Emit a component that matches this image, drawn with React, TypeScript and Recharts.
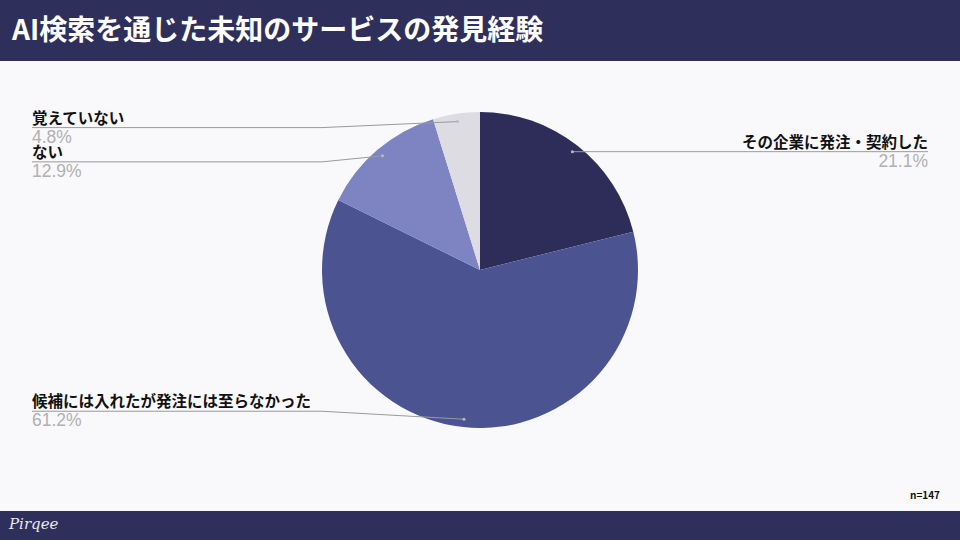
import { PieChart, Pie, Cell } from 'recharts'

const NAMES = ['その企業に発注・契約した', '候補には入れたが発注には至らなかった', 'ない', '覚えていない']
const VALUES = [21.1, 61.2, 12.9, 4.8]
const COLORS = ['#2e2d5a', '#4b5391', '#7e84c1', '#dcdce2']

const data = NAMES.map((name, i) => ({ name, value: VALUES[i] }))

const FONT = '"Noto Sans CJK JP", "Noto Sans", sans-serif'
const RAD = Math.PI / 180

function renderLabel(props: any) {
  const { cx, cy, midAngle, outerRadius, index } = props
  const r = outerRadius * 0.95
  const dx = cx + r * Math.cos(-midAngle * RAD)
  const dy = cy + r * Math.sin(-midAngle * RAD)
  const right = dx > cx
  const ly = right ? dy : dy + (dy < cy ? 6 : -8)
  const elbowX = cx - outerRadius
  const endX = right ? 928 : 32
  const path = right
    ? `M${dx},${dy} L${endX},${ly}`
    : `M${dx},${dy} L${elbowX},${ly} L${endX},${ly}`
  const anchor = right ? 'end' : 'start'
  return (
    <g key={index}>
      <path d={path} stroke="#9a9a9a" strokeWidth={1} fill="none" />
      <circle cx={dx} cy={dy} r={1.5} fill="#b8b8c8" />
      <text x={endX} y={ly - 4} textAnchor={anchor} fill="#111" fontSize={15.5} fontWeight={700} fontFamily={FONT}>
        {NAMES[index]}
      </text>
      <text x={endX} y={ly + 15} textAnchor={anchor} fill="#b0b0b0" fontSize={17.5} fontFamily='"Liberation Sans", Arial, sans-serif'>
        {VALUES[index].toFixed(1)}%
      </text>
    </g>
  )
}

export default function App() {
  return (
    <div style={{ position: 'relative', width: 960, height: 540, background: '#f9f9fb', overflow: 'hidden', fontFamily: FONT }}>
      <style>{'body{margin:0}'}</style>
      <div style={{ position: 'absolute', left: 0, top: 0, width: 960, height: 61, background: '#2f2f5c' }}>
        <div style={{ position: 'absolute', left: 12, top: 8, color: '#fff', fontSize: 28, fontWeight: 700, lineHeight: '40px', letterSpacing: 0 }}>
          AI検索を通じた未知のサービスの発見経験
        </div>
      </div>
      <div style={{ position: 'absolute', left: 0, top: 61 }}>
        <PieChart width={960} height={450} margin={{ top: 0, right: 0, bottom: 0, left: 0 }}>
          <Pie
            data={data}
            dataKey="value"
            nameKey="name"
            cx={480}
            cy={209}
            outerRadius={158}
            startAngle={90}
            endAngle={-270}
            stroke="none"
            label={renderLabel}
            labelLine={false}
            isAnimationActive={false}
          >
            {data.map((_, i) => <Cell key={i} fill={COLORS[i]} />)}
          </Pie>
        </PieChart>
      </div>
      <div style={{ position: 'absolute', right: 20, top: 487, fontSize: 10, fontWeight: 700, color: '#111' }}>n=147</div>
      <div style={{ position: 'absolute', left: 0, top: 511, width: 960, height: 29, background: '#2f2f5c' }}>
        <div style={{ position: 'absolute', left: 9, top: 4, color: '#e8e8f0', fontSize: 15, fontStyle: 'italic', fontFamily: '"DejaVu Serif", serif' }}>
          Pirqee
        </div>
      </div>
    </div>
  )
}
